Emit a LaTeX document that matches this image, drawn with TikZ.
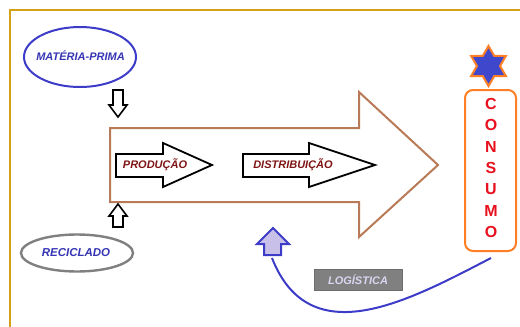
\documentclass[tikz,border=0pt]{standalone}
\usepackage{fontspec}
\setmainfont{Liberation Sans}
\usetikzlibrary{shapes.geometric}
\definecolor{frameg}{HTML}{D4A017}
\definecolor{brownc}{HTML}{B97A57}
\definecolor{blueline}{HTML}{3C3CC8}
\definecolor{bluetext}{HTML}{3535B5}
\definecolor{darkred}{HTML}{7F1414}
\definecolor{grayc}{HTML}{808080}
\definecolor{lav}{HTML}{C8C0E8}
\definecolor{orangec}{HTML}{FF7F27}
\definecolor{starblue}{HTML}{3F48CC}
\definecolor{redc}{HTML}{E8101E}
\begin{document}
\begin{tikzpicture}[x=1pt,y=-1pt,
  lbl/.style={font=\fontsize{11}{13}\selectfont\bfseries\itshape, inner sep=0pt},
  blockarrow/.style={draw=black, line width=1.8pt, fill=white, line join=miter},
  smallarrow/.style={draw=black, line width=1.6pt, fill=white, line join=miter},
  letter/.style={font=\fontsize{16}{18}\selectfont\bfseries, text=redc, inner sep=0pt}]
\useasboundingbox (0,0) rectangle (520,327);
\fill[white] (0,0) rectangle (520,327);
% frame
\draw[frameg, line width=1.8pt] (10,327) -- (10,10) -- (520,10);
% big arrow
\draw[brownc, line width=2pt, fill=white, line join=miter]
  (110,128) -- (359,128) -- (359,92) -- (438,165) -- (359,237) -- (359,202) -- (110,202) -- cycle;
% inner arrows
\draw[blockarrow] (116,154) -- (163,154) -- (163,143) -- (212,165) -- (163,187) -- (163,177) -- (116,177) -- cycle;
\node[lbl, text=darkred] (prod) at (155,165) {PRODUÇÃO};
\draw[blockarrow] (243,154) -- (309,154) -- (309,143) -- (375,165) -- (309,187) -- (309,177) -- (243,177) -- cycle;
\node[lbl, text=darkred] (dist) at (293,165) {DISTRIBUIÇÃO};
% materia prima
\node[ellipse, draw=blueline, line width=2pt, minimum width=112pt, minimum height=60pt, inner sep=0pt] (mp) at (80,57) {};
\node[lbl, text=bluetext] (mpt) at (80.5,56) {MATÉRIA-PRIMA};
% reciclado
\node[ellipse, draw=grayc, line width=2.4pt, minimum width=112pt, minimum height=37pt, inner sep=0pt] (rec) at (77,253) {};
\node[lbl, text=bluetext, font=\fontsize{11.5}{13}\selectfont\bfseries\itshape] (rect) at (76,253) {RECICLADO};
% small arrows
\draw[smallarrow] (113,90) -- (123,90) -- (123,105) -- (127,105) -- (118,117) -- (109,105) -- (113,105) -- cycle;
\draw[smallarrow] (118,204) -- (127,216) -- (123,216) -- (123,227) -- (113,227) -- (113,216) -- (109,216) -- cycle;
% star
\node[star, star points=6, star point ratio=1.73, minimum size=40pt, inner sep=0pt, fill=starblue, draw=orangec, line width=2pt] (star) at (488.5,66) {};
% consumo box
\node[draw=orangec, line width=2pt, rounded corners=8pt, minimum width=51pt, minimum height=161pt, inner sep=0pt] (cons) at (490.5,170.5) {};
\foreach \l [count=\i from 0] in {C,O,N,S,U,M,O}
  \node[letter] (l\i) at (491,{104+21.3*\i}) {\l};
% logistica arrow
\draw[blueline, line width=2pt, fill=lav, line join=miter]
  (273,228) -- (289,244) -- (281,244) -- (281,255) -- (264,255) -- (264,244) -- (257,244) -- cycle;
\coordinate (cstart) at (491,258);
\coordinate (cend) at (272,258);
\draw[blueline, line width=2pt] (cstart) .. controls (410,300) and (310,355) .. (cend);
% logistica label
\node[fill=grayc, draw=grayc!85!black, line width=0.6pt, minimum width=88pt, minimum height=21pt, inner sep=0pt,
  font=\fontsize{11}{13}\selectfont\bfseries\itshape, text={rgb,255:red,216;green,214;blue,240}] (log) at (358,279.5) {LOGÍSTICA};
\end{tikzpicture}
\end{document}
